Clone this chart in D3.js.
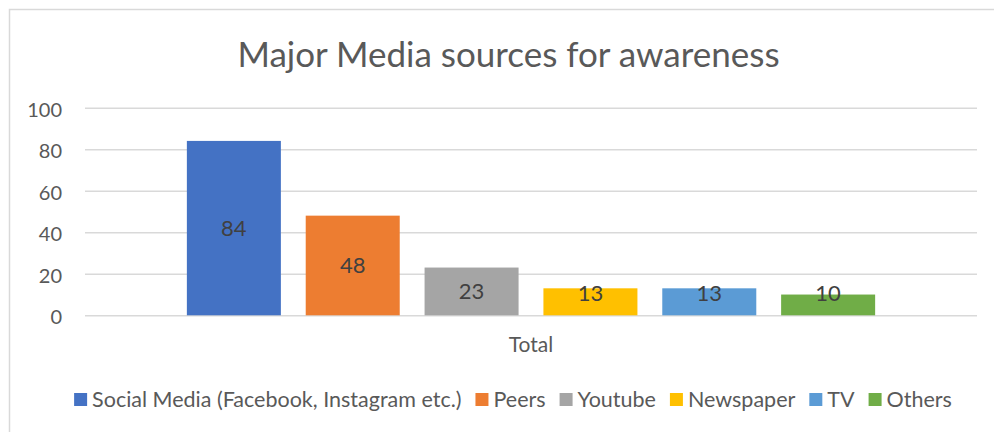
<!DOCTYPE html>
<html>
<head>
<meta charset="utf-8">
<script src="https://cdn.jsdelivr.net/npm/d3@7"></script>
<style>
  html, body { margin: 0; padding: 0; background: #ffffff; }
  svg { display: block; }
  text { font-family: "Lato", "Open Sans", sans-serif; }
</style>
</head>
<body>
<svg id="chart" width="994" height="432"></svg>
<script>
// Survey result: where respondents heard about the topic (one "Total" group)
const categories = ["Total"];
const seriesNames = ["Social Media (Facebook, Instagram etc.)", "Peers", "Youtube", "Newspaper", "TV", "Others"];
const seriesValues = [84, 48, 23, 13, 13, 10];
const seriesColors = ["#4472C4", "#ED7D31", "#A5A5A5", "#FFC000", "#5B9BD5", "#70AD47"];
const yTicks = [0, 20, 40, 60, 80, 100];
const titleText = "Major Media sources for awareness";

const svg = d3.select("#chart");
const W = 994, H = 432;
const plot = { left: 85, right: 977, top: 107.7, bottom: 315.3 };

// chart area frame (runs off the right and bottom edges)
svg.append("rect")
  .attr("x", 9.5).attr("y", 9.5)
  .attr("width", W + 20).attr("height", H + 20)
  .attr("fill", "#ffffff")
  .attr("stroke", "#d9d9d9").attr("stroke-width", 1.5);

// title
svg.append("text")
  .attr("x", 508.5).attr("y", 67)
  .attr("text-anchor", "middle")
  .attr("fill", "#595959")
  .style("font-size", "35px")
  .text(titleText);

const y = d3.scaleLinear().domain([0, 100]).range([plot.bottom, plot.top]);
const x0 = d3.scaleBand().domain(categories).range([plot.left, plot.right])
  .paddingInner(0).paddingOuter(0.148);
const x1 = d3.scaleBand().domain(seriesNames).range([0, x0.bandwidth()])
  .paddingInner(0.209).paddingOuter(0);

// horizontal gridlines + value labels
const yAxis = d3.axisLeft(y).tickValues(yTicks).tickSize(-(plot.right - plot.left)).tickPadding(23);
const gy = svg.append("g").attr("transform", `translate(${plot.left},0)`).call(yAxis);
gy.select(".domain").remove();
gy.selectAll(".tick line").attr("stroke", "#d9d9d9").attr("stroke-width", 1.5);
gy.selectAll(".tick text")
  .attr("fill", "#595959")
  .attr("dy", "0.42em")
  .style("font-size", "20px")
  .style("font-family", "Lato, 'Open Sans', sans-serif");

// category axis label
const xAxis = d3.axisBottom(x0).tickSize(0).tickPadding(22);
const gx = svg.append("g").attr("transform", `translate(0,${plot.bottom})`).call(xAxis);
gx.select(".domain").remove();
gx.selectAll(".tick text")
  .attr("fill", "#595959")
  .style("font-size", "21px")
  .style("font-family", "Lato, 'Open Sans', sans-serif");

const rows = seriesNames.map((name, i) => ({ cat: categories[0], name, value: seriesValues[i], color: seriesColors[i] }));

// bars
const group = svg.append("g");
group.selectAll("rect.bar").data(rows).join("rect")
  .attr("class", "bar")
  .attr("x", d => x0(d.cat) + x1(d.name))
  .attr("width", x1.bandwidth())
  .attr("y", d => y(d.value))
  .attr("height", d => y(0) - y(d.value))
  .attr("fill", d => d.color);

// value labels, centred in the bar, lifted clear of the baseline for short bars
group.selectAll("text.val").data(rows).join("text")
  .attr("class", "val")
  .attr("x", d => x0(d.cat) + x1(d.name) + x1.bandwidth() / 2)
  .attr("y", d => Math.min((y(d.value) + y(0)) / 2, y(0) - 22))
  .attr("dy", "0.36em")
  .attr("text-anchor", "middle")
  .attr("fill", "#404040")
  .style("font-size", "22px")
  .text(d => d.value);

// legend
const legend = svg.append("g");
const items = legend.selectAll("g").data(rows).join("g");
items.append("rect")
  .attr("width", 13).attr("height", 13)
  .attr("y", 393)
  .attr("fill", d => d.color);
items.append("text")
  .attr("x", 18).attr("y", 407)
  .attr("fill", "#595959")
  .style("font-size", "21.5px")
  .text(d => d.name);
let cursor = 0;
const gap = 14;
items.each(function () {
  const w = 18 + this.querySelector("text").getComputedTextLength();
  d3.select(this).attr("transform", `translate(${cursor},0)`);
  cursor += w + gap;
});
const legendW = cursor - gap;
legend.attr("transform", `translate(${513 - legendW / 2},0)`);
</script>
</body>
</html>
